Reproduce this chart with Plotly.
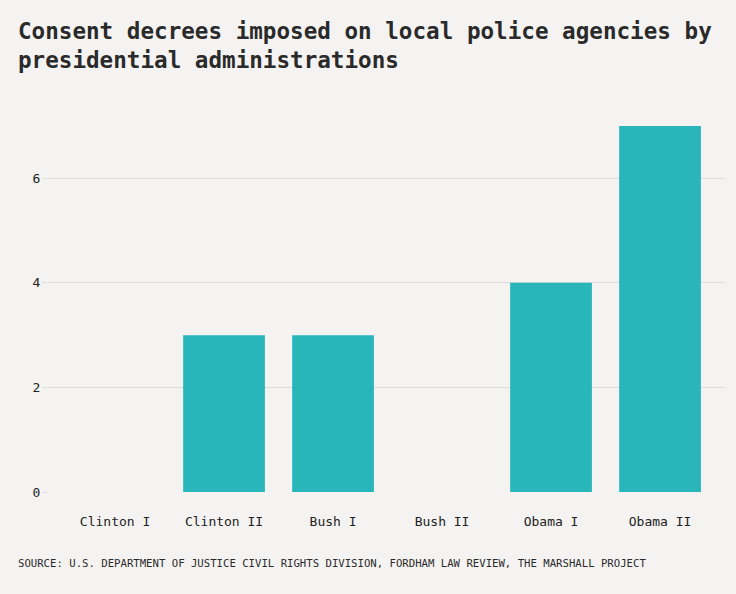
import plotly.graph_objects as go

categories = ["Clinton I", "Clinton II", "Bush I", "Bush II", "Obama I", "Obama II"]
decrees = [0, 3, 3, 0, 4, 7]
y_ticks = [0, 2, 4, 6]

title_text = "<b>Consent decrees imposed on local police agencies by<br>presidential administrations</b>"
source_text = "SOURCE: U.S. DEPARTMENT OF JUSTICE CIVIL RIGHTS DIVISION, FORDHAM LAW REVIEW, THE MARSHALL PROJECT"

BG = "#f5f3f1"
BAR = "#29b6bb"
FONT = "DejaVu Sans Mono"

fig = go.Figure(
    go.Bar(
        x=list(range(len(categories))),
        y=decrees,
        marker=dict(color=BAR, line=dict(width=0)),
        width=0.75,
        hoverinfo="x+y",
    )
)

fig.update_layout(
    width=736,
    height=594,
    paper_bgcolor=BG,
    plot_bgcolor=BG,
    margin=dict(l=48, r=11, t=126, b=102),
    showlegend=False,
    font=dict(family=FONT, color="#222222"),
    xaxis=dict(
        range=[-0.615, 5.596],
        tickmode="array",
        tickvals=list(range(len(categories))),
        ticktext=categories,
        showgrid=False,
        zeroline=False,
        showline=False,
        ticks="",
        ticklabelstandoff=20,
        tickfont=dict(family=FONT, size=13, color="#222222"),
        fixedrange=True,
    ),
    yaxis=dict(
        range=[0, 7],
        tickmode="array",
        tickvals=y_ticks,
        showgrid=True,
        gridcolor="#dedcda",
        gridwidth=1,
        zeroline=False,
        showline=False,
        ticks="outside",
        ticklen=4,
        tickcolor="#dedcda",
        tickfont=dict(family=FONT, size=13, color="#222222"),
        fixedrange=True,
    ),
    annotations=[
        dict(
            text=title_text,
            xref="paper", yref="paper",
            x=(16 - 48) / 677, y=1 + (126 - 16) / 366,
            xanchor="left", yanchor="top",
            align="left",
            showarrow=False,
            font=dict(family=FONT, size=22.6, color="#2a2a2a"),
        ),
        dict(
            text=source_text,
            xref="paper", yref="paper",
            x=(16 - 48) / 677, y=-(563 - 492) / 366,
            xanchor="left", yanchor="middle",
            align="left",
            showarrow=False,
            font=dict(family=FONT, size=10.65, color="#2a2a2a"),
        ),
    ],
)

fig.write_html(
    "out.html",
    config={"displayModeBar": False},
    post_script="document.body.style.margin='0';document.body.style.background='%s';" % BG,
)
